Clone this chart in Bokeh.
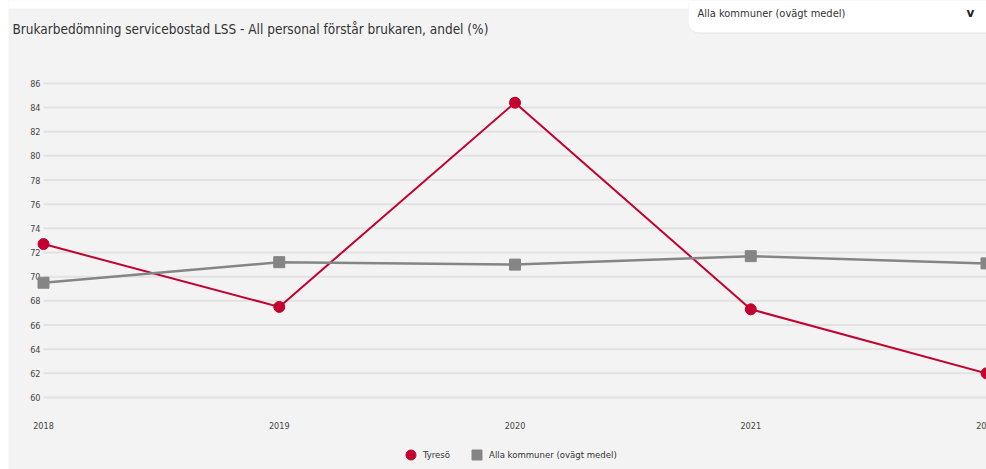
from bokeh.plotting import figure
from bokeh.models import (Range1d, Legend, LegendItem, Label, BoxAnnotation)
from bokeh.core.properties import value
from bokeh.embed import file_html
from bokeh.resources import INLINE

# ---- data ----
years = [2018, 2019, 2020, 2021, 2022]
year_labels = ["2018", "2019", "2020", "2021", "2022"]
tyreso = [72.7, 67.5, 84.4, 67.3, 62.0]
alla_kommuner = [69.5, 71.2, 71.0, 71.7, 71.1]
y_ticks = [60, 62, 64, 66, 68, 70, 72, 74, 76, 78, 80, 82, 84, 86]
y_tick_labels = [str(t) for t in y_ticks]
series_names = ["Tyresö", "Alla kommuner (ovägt medel)"]
title_text = "Brukarbedömning servicebostad LSS - All personal förstår brukaren, andel (%)"
dropdown_text = "Alla kommuner (ovägt medel)"

FONT = "'Liberation Sans Narrow', 'DejaVu Sans Condensed', 'Roboto', sans-serif"
BG = "#f3f3f3"
RED = "#c4002f"
GRAY = "#858585"

# the plotting frame covers the whole canvas; tick labels are drawn as text
p = figure(width=978, height=469,
           x_range=Range1d(2017.8515, 2022.0), y_range=Range1d(54.04, 92.86),
           output_backend="svg", toolbar_location=None,
           x_axis_location=None, y_axis_location=None,
           min_border=0, background_fill_color=BG, border_fill_color=BG,
           outline_line_color=None, margin=(0, 0, 0, 8))
p.xgrid.visible = False
p.ygrid.visible = False

# horizontal grid lines over the data span
p.segment(x0=[years[0]] * len(y_ticks), x1=[years[-1] + 1] * len(y_ticks),
          y0=y_ticks, y1=y_ticks, line_color="#e2e2e2", line_width=2)

# tick labels
p.text(x=years, y=[y_ticks[0]] * len(years), text=year_labels,
       y_offset=28, text_align="center", text_baseline="middle",
       text_font=value(FONT), text_font_size="9px", text_color="#444444")
p.text(x=[years[0]] * len(y_ticks), y=y_ticks, text=y_tick_labels,
       x_offset=-3, text_align="right", text_baseline="middle",
       text_font=value(FONT), text_font_size="9px", text_color="#444444")

# series
p.line(years, tyreso, line_color=RED, line_width=2)
r_pts1 = p.scatter(years, tyreso, marker="circle", size=11, fill_color=RED, line_color=RED)
p.line(years, alla_kommuner, line_color=GRAY, line_width=2.5)
r_pts2 = p.scatter(years, alla_kommuner, marker="square", size=11, fill_color=GRAY, line_color=GRAY)

legend = Legend(items=[LegendItem(label=series_names[0], renderers=[r_pts1]),
                       LegendItem(label=series_names[1], renderers=[r_pts2])],
                orientation="horizontal", location=(390, 2),
                glyph_width=25, glyph_height=25, label_standoff=-4, spacing=14,
                padding=0, margin=0, border_line_color=None, background_fill_alpha=0,
                label_text_font=FONT, label_text_font_size="9.5px", label_text_color="#333333")
p.add_layout(legend)

# white strip at the very top (page background)
p.add_layout(BoxAnnotation(left=-10, right=1000, top=480, bottom=461,
                           left_units="screen", right_units="screen",
                           top_units="screen", bottom_units="screen",
                           fill_color="white", fill_alpha=1, line_color=None))

# title
p.add_layout(Label(x=4, y=441, x_units="screen", y_units="screen", text=title_text,
                   text_font=FONT, text_font_size="13.5px", text_color="#333333",
                   text_baseline="middle", text_align="left"))

# dropdown box (decorative)
p.add_layout(BoxAnnotation(left=681, right=995, top=479, bottom=436,
                           left_units="screen", right_units="screen",
                           top_units="screen", bottom_units="screen",
                           fill_color="#e4e4e4", fill_alpha=1, line_color=None,
                           border_radius=10))
p.add_layout(BoxAnnotation(left=680, right=992, top=479, bottom=437,
                           left_units="screen", right_units="screen",
                           top_units="screen", bottom_units="screen",
                           fill_color="white", fill_alpha=1, line_color="#eeeeee",
                           border_radius=10))
p.add_layout(Label(x=689, y=456, x_units="screen", y_units="screen", text=dropdown_text,
                   text_font=FONT, text_font_size="11px", text_color="#333333",
                   text_baseline="middle", text_align="left"))
p.add_layout(Label(x=962, y=457, x_units="screen", y_units="screen", text="v",
                   text_font="DejaVu Sans", text_font_size="12px", text_font_style="bold",
                   text_color="#222222", text_baseline="middle", text_align="center"))

open("out.html", "w").write(file_html(p, INLINE))
